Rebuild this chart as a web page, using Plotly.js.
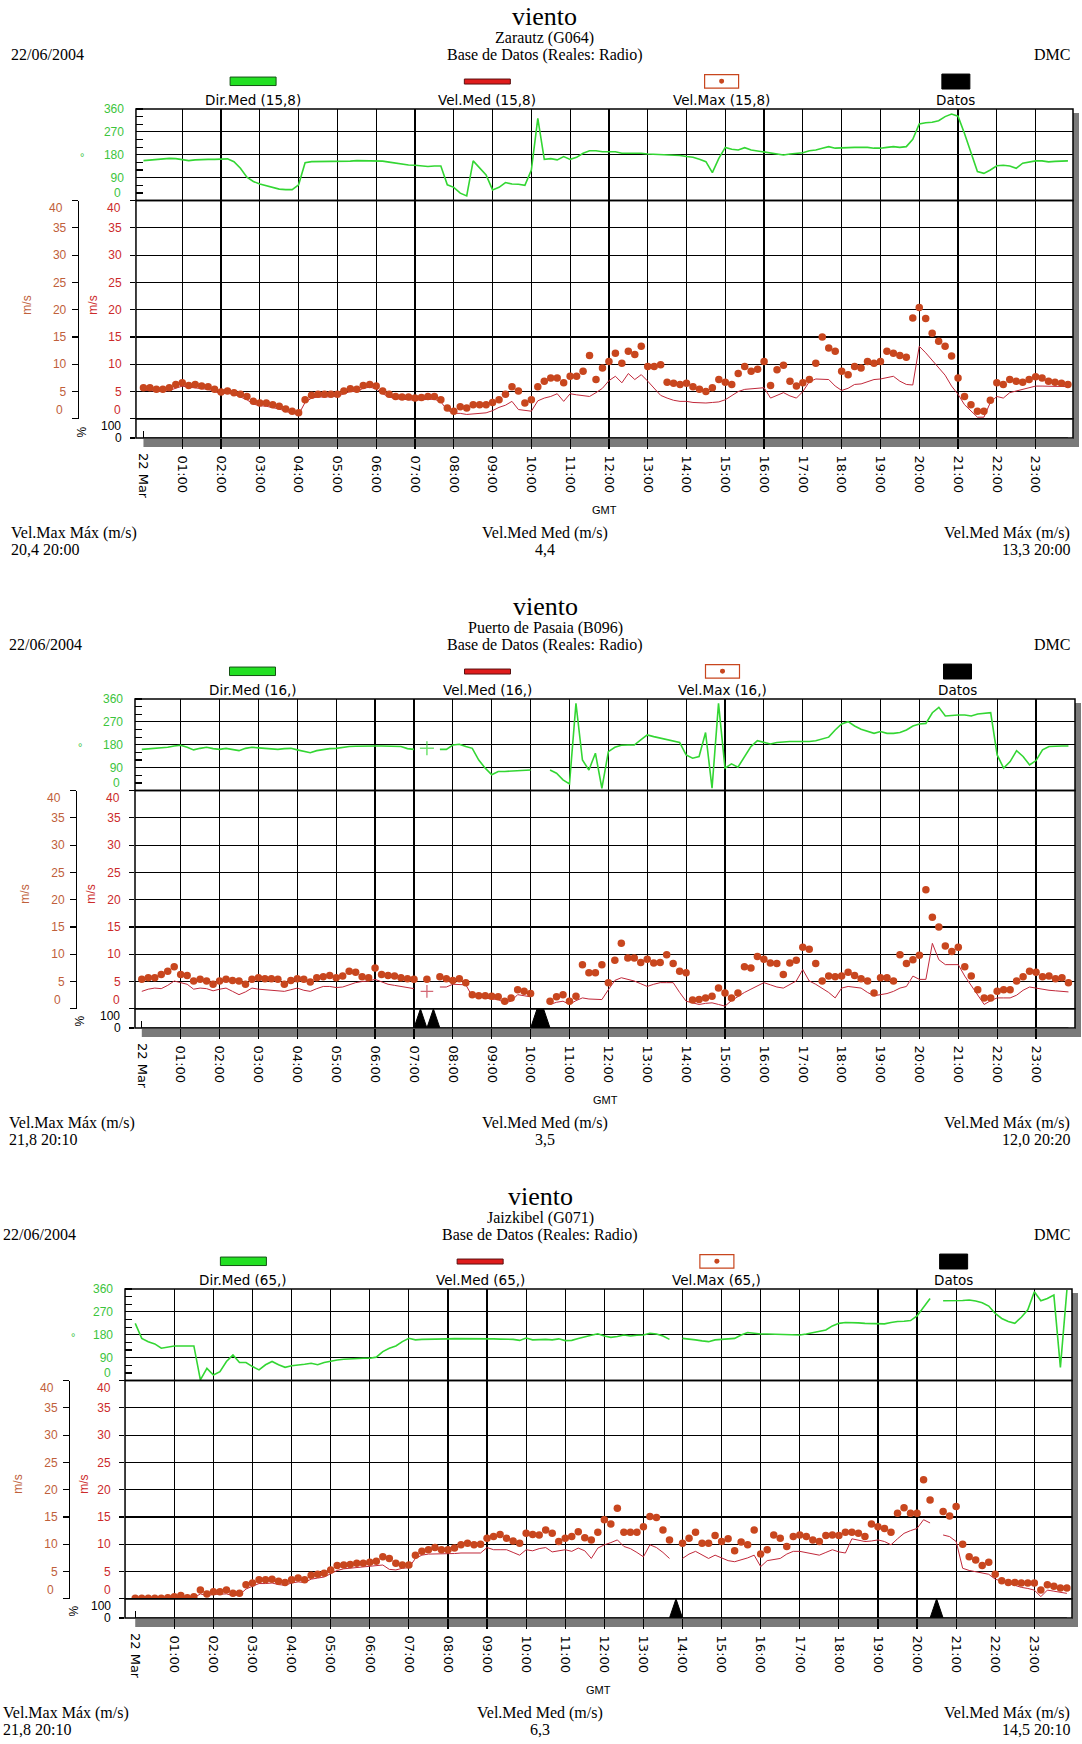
<!DOCTYPE html>
<html>
<head>
<meta charset="utf-8">
<script src="https://cdn.plot.ly/plotly-3.0.1.min.js"></script>
<style>
  html, body { margin: 0; padding: 0; background: #fff; overflow: hidden; width: 1082px; }
  .panel { width: 1082px; height: 590px; }
</style>
</head>
<body>
<div id="p1" class="panel"></div>
<div id="p2" class="panel"></div>
<div id="p3" class="panel"></div>
<script>
// ---------------------------------------------------------------
// Tick labels
// ---------------------------------------------------------------
const dayLabel = '22 Mar';
const hourLabels = ['01:00','02:00','03:00','04:00','05:00','06:00','07:00','08:00','09:00','10:00','11:00','12:00',
                    '13:00','14:00','15:00','16:00','17:00','18:00','19:00','20:00','21:00','22:00','23:00'];

// ---------------------------------------------------------------
// Zarautz (G064) - 10 minute values
// ---------------------------------------------------------------
const dir1 = [157,160,162,165,166,165,160,157,160,162,162,162,164,164,
  153,127,92,75,65,58,50,45,43,43,62,149,153,
  153,153,153,153,154,155,157,157,157,157,155,151,147,143,140,139,136,134,136,136,
  62,52,29,18,156,127,101,42,52,71,65,64,60,120,323,162,165,160,173,162,170,186,196,196,192,
  192,192,186,186,188,186,183,182,179,179,179,177,173,170,162,153,110,166,209,202,199,208,199,195,
  192,186,182,179,183,186,188,196,199,206,212,206,206,208,209,209,209,206,206,209,212,209,212,241,
  301,306,308,314,330,340,332,264,186,114,107,120,137,139,136,127,147,152,156,156,152,154,156,156];
const vmax1 = [5.7,5.7,5.4,5.4,5.7,6.3,6.6,6.1,6.3,6.0,5.9,5.4,4.9,5.1,4.8,4.5,4.1,3.2,2.9,2.9,2.6,2.3,1.8,1.4,1.1,
  3.5,4.3,4.5,4.5,4.5,4.5,5.1,5.5,5.4,6.1,6.3,6.0,5.1,4.5,4.1,4.0,4.0,3.8,3.9,4.1,4.1,3.5,
  2.0,1.4,2.2,2.0,2.6,2.6,2.6,3.0,3.5,4.5,5.9,5.1,2.9,3.5,5.9,6.9,7.5,7.5,6.6,7.8,7.8,8.7,11.6,7.2,9.3,
  10.5,12.0,10.2,12.4,11.8,13.3,9.6,9.6,9.9,6.7,6.5,6.3,6.5,5.9,5.4,5.0,5.7,7.2,6.7,6.3,8.3,9.6,8.7,9.1,
  10.5,6.1,9.0,9.8,6.9,6.0,6.6,7.2,10.2,15.0,13.0,12.4,8.7,8.1,9.6,9.3,10.5,10.2,10.5,12.4,12.0,11.6,11.3,18.5,
  20.4,18.4,15.7,14.2,13.3,11.5,7.5,4.1,2.6,1.4,1.4,3.4,6.6,6.3,7.2,6.9,6.7,7.2,7.7,7.5,6.9,6.7,6.5,6.3];
const vmed1 = [5.2,5.2,5.0,5.0,5.2,5.6,6.0,5.8,5.7,5.6,5.4,5.0,4.6,4.7,
  4.5,4.0,3.5,2.7,2.4,2.3,2.1,1.8,1.4,1.0,0.8,
  3.0,3.8,4.0,4.0,4.1,4.1,4.6,5.0,5.0,5.6,5.8,5.5,4.6,4.0,3.7,3.6,3.5,3.4,3.5,3.6,3.6,3.1,
  1.6,1.0,1.0,0.8,0.9,1.0,1.1,1.5,2.1,2.5,3.2,1.7,1.6,1.4,3.3,3.8,4.1,4.6,3.2,4.6,4.4,4.2,4.1,4.8,5.6,
  7.0,7.8,6.6,8.3,7.2,8.1,6.9,5.5,4.3,3.8,3.4,3.2,3.2,3.0,2.9,2.9,3.0,3.1,3.5,4.2,5.0,5.4,5.5,5.6,
  5.7,3.8,4.3,4.8,4.2,3.8,5.0,6.8,7.3,7.3,7.2,6.0,5.2,5.6,6.3,6.4,6.8,7.2,7.3,7.6,7.8,6.9,6.3,6.2,
  13.3,12.1,10.8,9.5,8.0,6.0,4.5,2.6,1.5,0.3,0.3,3.0,4.1,3.8,4.8,5.1,5.4,5.8,6.0,6.0,6.0,6.0,6.0,5.9];
const datosTimes1 = [];
const datosPct1 = [];

// ---------------------------------------------------------------
// Puerto de Pasaia (B096) - 10 minute values
// ---------------------------------------------------------------
const dir2 = [162,164,165,166,170,175,178,170,160,166,170,165,162,166,162,157,166,170,168,166,164,162,165,166,
  160,154,149,157,162,165,166,170,173,174,175,175,175,175,175,175,173,165,162,
  null,166,null,
  162,162,179,182,173,166,120,88,62,75,75,77,79,80,81,
  null,null,
  81,68,42,26,343,120,81,147,9,
  153,170,178,179,179,199,219,212,206,199,195,189,140,127,134,228,9,343,88,105,92,134,173,196,
  189,183,189,192,193,193,193,193,196,202,210,238,262,271,254,241,232,225,232,225,225,228,238,254,
  262,264,306,327,293,296,297,297,293,301,304,306,140,88,114,157,134,101,118,160,173,175,175,175];
const vmax2 = [5.4,5.7,5.7,6.3,6.9,7.7,6.3,6.1,5.1,5.4,5.1,4.5,5.1,5.4,5.2,5.1,4.5,5.4,5.7,5.5,5.5,5.4,4.5,5.2,
  5.5,5.4,4.9,5.7,5.9,6.1,5.7,6.0,6.9,6.7,5.9,5.7,7.5,6.3,6.1,6.0,5.7,5.5,5.4,
  null,5.4,null,
  5.9,5.5,5.2,5.5,4.8,2.6,2.4,2.4,2.3,2.2,1.4,2.0,3.5,3.2,2.8,
  null,null,
  1.4,2.2,2.6,1.4,2.3,8.1,6.6,6.6,8.1,
  4.8,8.9,12.0,9.3,9.3,8.5,9.1,8.4,8.5,9.9,8.3,6.9,6.6,1.6,1.7,2.0,2.3,3.8,2.9,2.0,2.9,7.7,7.5,9.6,
  9.1,8.4,8.3,6.3,8.4,8.9,11.3,10.9,8.3,5.1,6.0,5.9,6.0,6.7,6.1,5.5,5.1,2.9,5.7,5.7,5.1,9.9,8.3,9.0,
  9.8,21.8,16.8,15.0,11.5,10.5,11.3,7.7,6.0,3.5,2.0,2.0,3.2,3.5,3.5,5.1,5.9,6.9,6.7,5.9,6.0,5.5,5.7,4.8];
const vmed2 = [3.2,3.6,3.8,3.7,4.3,5.1,4.8,4.5,3.6,3.8,3.7,3.3,3.6,3.8,3.2,2.6,3.1,3.8,3.6,3.5,3.5,3.4,3.2,3.5,
  3.8,3.4,3.2,3.7,4.1,4.1,3.9,4.0,4.4,4.8,5.0,5.1,5.4,4.9,4.5,4.3,4.1,3.9,3.7,
  null,3.2,null,
  4.0,4.0,4.5,4.5,4.4,2.3,2.1,2.0,1.8,1.7,1.1,1.4,2.6,2.4,2.2,
  null,null,
  0.8,1.2,1.4,0.8,1.5,2.0,1.8,1.7,1.7,
  3.5,5.2,5.7,5.4,5.1,4.6,4.1,4.5,4.8,4.8,4.8,3.0,1.4,1.1,0.8,1.0,1.1,0.8,0.5,1.5,2.3,3.0,3.6,4.2,
  4.8,4.4,4.0,3.8,4.5,5.1,7.2,5.1,4.5,3.8,3.0,2.0,3.8,4.1,4.0,3.8,3.0,2.4,2.6,2.8,3.2,3.8,4.1,6.0,
  5.4,5.4,12.0,9.0,8.1,8.1,8.1,6.0,4.2,2.6,0.8,1.5,2.0,2.0,2.0,2.5,3.4,4.0,3.8,3.5,3.4,3.3,3.2,3.1];
const datosTimes2 = ['07:10','07:30','10:10','10:20'];
const datosPct2 = [100,100,100,100];

// ---------------------------------------------------------------
// Jaizkibel (G071) - 10 minute values
// ---------------------------------------------------------------
const dir3 = [225,166,153,144,127,131,136,136,136,136,
  3,48,22,35,75,101,71,71,55,42,62,75,62,52,58,60,64,68,62,71,77,81,84,86,88,88,88,92,114,127,136,153,166,160,162,162,
  162,163,164,165,165,165,166,165,165,164,163,163,162,158,167,160,161,162,160,164,157,158,165,170,178,184,
  175,170,173,179,175,178,179,186,183,175,162,null,166,164,160,156,153,160,162,165,166,179,189,186,
  183,183,182,181,179,179,179,183,188,195,199,215,225,228,228,227,225,225,224,223,228,232,233,236,
  254,290,323,null,314,314,314,315,317,313,306,293,264,244,232,225,249,278,349,314,323,336,52,356];
const vmax3 = [0.1,0.1,0.1,0.1,0.1,0.2,0.4,0.6,0.2,0.4,
  1.6,0.9,1.3,1.3,1.6,1.0,1.0,2.6,2.9,3.5,
  3.5,3.6,3.2,3.0,3.5,3.8,3.5,4.3,4.5,4.7,
  5.3,6.1,6.2,6.3,6.5,6.5,6.7,6.9,7.7,7.4,
  6.5,6.2,6.2,8.0,8.7,9.0,9.4,9.0,9.0,9.3,
  9.9,10.2,9.9,10.0,11.1,11.4,11.8,11.1,10.6,10.2,
  12.0,11.8,11.7,12.6,12.0,10.5,11.1,11.4,12.3,11.2,
  10.8,12.2,
  14.5,13.7,16.6,12.2,12.2,12.2,13.2,15.1,14.9,12.6,
  10.8,null,10.2,11.1,12.2,10.2,10.2,11.6,10.5,11.0,
  8.8,10.4,9.9,12.6,8.2,9.0,11.7,11.1,9.6,11.4,
  11.7,11.4,10.8,10.5,11.6,11.7,11.6,12.2,12.2,12.0,
  11.4,13.7,13.2,12.9,12.2,15.7,16.7,15.7,15.7,21.8,
  18.1,null,16.0,15.2,16.9,10.0,7.7,7.1,6.1,6.7,
  4.5,3.3,3.0,3.0,2.9,2.9,2.9,1.6,2.6,2.3,
  2.0,2.0];
const vmed3 = [0.0,0.0,0.0,0.0,0.0,0.1,0.2,0.3,0.1,0.2,
  0.9,0.6,0.8,0.8,0.9,0.6,0.7,1.8,2.3,2.8,
  2.8,2.9,2.6,2.5,2.9,3.1,3.0,3.6,3.8,4.0,
  4.6,5.2,5.5,5.6,5.8,5.8,5.9,6.0,6.2,5.4,
  5.3,5.6,5.7,7.4,8.0,8.2,8.2,8.2,8.3,8.3,
  8.4,8.4,8.4,8.4,9.4,9.0,9.0,9.0,8.5,8.0,
  9.0,8.8,9.2,9.4,8.6,8.8,9.0,8.7,9.3,8.8,
  7.4,9.3,
  9.9,10.3,10.8,9.6,9.2,8.5,7.7,9.9,9.4,8.5,
  7.4,null,7.4,8.2,8.7,8.0,7.4,8.0,7.5,7.0,
  6.8,7.1,7.5,8.0,5.9,7.0,7.2,7.4,8.2,8.7,
  8.7,8.5,8.2,8.0,8.5,9.0,8.6,8.4,11.0,10.8,
  10.5,10.6,10.8,10.5,9.9,11.0,12.0,12.5,12.9,14.5,
  13.9,null,11.7,11.4,10.5,5.6,5.2,5.0,4.8,4.5,
  3.6,3.2,2.9,2.5,2.1,1.9,1.6,0.4,1.6,1.4,
  1.2,1.0];
const datosTimes3 = ['13:50','20:30'];
const datosPct3 = [100,100];

// ---------------------------------------------------------------
// Header and summary texts
// ---------------------------------------------------------------
const chartTitle = 'viento';
const dateText = '22/06/2004';
const sourceText = 'Base de Datos (Reales: Radio)';
const orgText = 'DMC';
const stations = ['Zarautz (G064)', 'Puerto de Pasaia (B096)', 'Jaizkibel (G071)'];
const sensorCodes = ['15,8', '16,', '65,'];
const velMaxMax = ['20,4 20:00', '21,8 20:10', '21,8 20:10'];
const velMedMed = ['4,4', '3,5', '6,3'];
const velMedMax = ['13,3 20:00', '12,0 20:20', '14,5 20:10'];

// ---------------------------------------------------------------
// Drawing
// ---------------------------------------------------------------
const W = 1082, H = 590;
const PLOT_TOP = 109, DIR_BOTTOM = 200.7, SPD_BOTTOM = 419.3, PLOT_BOTTOM = 438.5;
const SERIF = 'Liberation Serif, Times New Roman, serif';
const SANS = 'Liberation Sans, Arial, sans-serif';
const WIDE_SANS = 'DejaVu Sans, sans-serif';
const GREEN = '#33d633', GREEN_TXT = '#3cc43c';
const RED = '#c0283a', RED_TXT = '#cc2a2a';
const RUST = '#c8461e', RUST_TXT = '#c0603a';

// 10-minute slots of the day, in hours
const slots = Array.from({length: 144}, (_, i) => i / 6);

function slotIndex(t) {
  const [h, m] = t.split(':').map(Number);
  return h * 6 + Math.round(m / 10);
}

function datosSeries(times, pct) {
  const s = slots.map(() => 0);
  times.forEach((t, k) => { s[slotIndex(t)] = pct[k]; });
  return s;
}

// single values between gaps get a cross marker, as the line cannot show them
function isolatedSizes(arr, size) {
  return arr.map((v, i) => {
    if (v === null) return 0;
    const prev = i > 0 ? arr[i - 1] : null;
    const next = i < arr.length - 1 ? arr[i + 1] : null;
    return (prev === null && next === null) ? size : 0;
  });
}

function drawPanel(k, d, g) {
  const ml = 10, mr = W - g.frameRight, mt = PLOT_TOP, mb = H - PLOT_BOTTOM;
  const pw = g.frameRight - ml, ph = PLOT_BOTTOM - PLOT_TOP;
  const px = x => (x - ml) / pw;
  const py = y => (PLOT_BOTTOM - y) / ph;
  const dPct = (PLOT_BOTTOM - SPD_BOTTOM) / ph;
  const dDir = (PLOT_BOTTOM - DIR_BOTTOM) / ph;
  const xr = [(g.frameLeft - g.hour0) / g.pxh, (g.frameRight - g.hour0) / g.pxh];
  const xDomain = [px(g.frameLeft), 1];
  const code = sensorCodes[k];

  const traces = [
    { x: slots, y: d.dir, xaxis: 'x', yaxis: 'y', type: 'scatter', mode: 'lines+markers',
      line: { color: GREEN, width: 1.6 },
      marker: { size: isolatedSizes(d.dir, 10), symbol: 'cross-thin-open', color: GREEN, line: { color: GREEN, width: 1.5 } } },
    { x: slots, y: d.vmed, xaxis: 'x', yaxis: 'y2', type: 'scatter', mode: 'lines+markers',
      line: { color: RED, width: 1 },
      marker: { size: isolatedSizes(d.vmed, 9), symbol: 'cross-thin-open', color: RED, line: { color: RED, width: 1.3 } } },
    { x: slots, y: d.vmax, xaxis: 'x', yaxis: 'y2', type: 'scatter', mode: 'markers',
      marker: { size: 7.5, symbol: 'circle', color: RUST } },
    { x: slots, y: datosSeries(d.datosT, d.datosP), xaxis: 'x', yaxis: 'y3', type: 'scatter', mode: 'lines',
      fill: 'tozeroy', fillcolor: '#000', line: { color: '#000', width: 1 } },
    { x: [], y: [], xaxis: 'x2', yaxis: 'y3', type: 'scatter', mode: 'lines' },
    { x: [], y: [], xaxis: 'x', yaxis: 'y4', type: 'scatter', mode: 'lines' }
  ];

  const spdVals = [0, 5, 10, 15, 20, 25, 30, 35, 40];
  const spdText = ['', '5', '10', '15', '20', '25', '30', '35', ''];
  const tickFont = c => ({ family: SANS, size: 12, color: c });

  const layout = {
    width: W, height: H,
    margin: { l: ml, r: mr, t: mt, b: mb, pad: 0 },
    paper_bgcolor: '#fff', plot_bgcolor: '#fff',
    showlegend: false,
    xaxis: {
      domain: xDomain, range: xr, anchor: 'y3',
      tickmode: 'array', tickvals: hourLabels.map((_, i) => i + 1), ticktext: hourLabels,
      tickangle: 90, ticks: 'outside', ticklen: 10, tickwidth: 1.2, tickcolor: '#000',
      ticklabelstandoff: 4,
      tickfont: { family: WIDE_SANS, size: 13, color: '#000' },
      showgrid: true, gridcolor: '#000', gridwidth: 1.2, zeroline: false, showline: false, fixedrange: true
    },
    xaxis2: {
      overlaying: 'x', anchor: 'y3', range: xr,
      tickmode: 'array', tickvals: [0], ticktext: [dayLabel],
      tickangle: 90, ticks: 'inside', ticklen: 7, tickwidth: 1.2, tickcolor: '#000',
      ticklabelstandoff: 14,
      tickfont: { family: WIDE_SANS, size: 13, color: '#000' },
      showgrid: false, zeroline: false, showline: false, fixedrange: true
    },
    yaxis: {
      domain: [dDir, 1], range: [0, 360], anchor: 'x',
      tickmode: 'array', tickvals: [0, 90, 180, 270, 360], ticktext: ['', '90', '180', '270', '360'],
      ticks: '', ticklabelstandoff: 11, tickfont: tickFont(GREEN_TXT),
      minor: { tickmode: 'linear', tick0: 0, dtick: 30, ticks: 'inside', ticklen: 7, tickwidth: 1.2, tickcolor: '#000', showgrid: false },
      showgrid: true, gridcolor: '#000', gridwidth: 1.2, zeroline: false, showline: false, fixedrange: true
    },
    yaxis2: {
      domain: [dPct, dDir], range: [0, 40], anchor: 'x',
      tickmode: 'array', tickvals: spdVals, ticktext: spdText,
      ticks: 'outside', ticklen: 5, tickwidth: 1.2, tickcolor: '#000', ticklabelstandoff: 6,
      tickfont: tickFont(RED_TXT),
      showgrid: true, gridcolor: '#000', gridwidth: 1.2, zeroline: false, showline: false, fixedrange: true
    },
    yaxis3: {
      domain: [0, dPct], range: [0, 100], anchor: 'x',
      tickmode: 'array', tickvals: [0, 100], ticktext: ['0', ''],
      ticks: 'outside', ticklen: 5, tickwidth: 1.2, tickcolor: '#000', ticklabelstandoff: 6,
      tickfont: tickFont('#000'),
      showgrid: false, zeroline: false, showline: false, fixedrange: true
    },
    yaxis4: {
      overlaying: 'y2', anchor: 'free', position: px(g.outerX), side: 'left', range: [0, 40],
      tickmode: 'array', tickvals: spdVals, ticktext: spdText,
      ticks: 'outside', ticklen: 6, tickwidth: 1.2, tickcolor: '#000', ticklabelstandoff: 3,
      tickfont: tickFont(RUST_TXT),
      showline: true, linecolor: '#000', linewidth: 1.2,
      showgrid: false, zeroline: false, fixedrange: true
    },
    shapes: [],
    annotations: []
  };

  const S = layout.shapes, A = layout.annotations;

  // drop shadow of the plot frame
  S.push({ type: 'rect', xref: 'paper', yref: 'paper', layer: 'below',
    x0: px(g.frameRight), x1: px(g.frameRight + 6), y0: py(PLOT_TOP + 4), y1: py(PLOT_BOTTOM + 9),
    fillcolor: '#7a7a7a', line: { width: 0 } });
  S.push({ type: 'rect', xref: 'paper', yref: 'paper', layer: 'below',
    x0: px(g.hour0), x1: px(g.frameRight + 6), y0: py(PLOT_BOTTOM + 1), y1: py(PLOT_BOTTOM + 9),
    fillcolor: '#7a7a7a', line: { width: 0 } });

  // frames of the three stacked sub-plots
  ['y', 'y2', 'y3'].forEach(ya => S.push({ type: 'rect', xref: 'x domain', yref: ya + ' domain',
    x0: 0, x1: 1, y0: 0, y1: 1, line: { color: '#000', width: 1.5 } }));

  // boundary tick labels, nudged inside their own band
  const gap = g.labelGap;
  const boundLabel = (text, yref, yv, shift, xs, color) => A.push({
    xref: 'x domain', yref: yref, x: 0, y: yv, xshift: xs, yshift: shift, xanchor: 'right', yanchor: 'middle',
    text: text, showarrow: false, font: { family: SANS, size: 12, color: color } });
  boundLabel('0', 'y', 0, 7.4, -gap, GREEN_TXT);
  boundLabel('40', 'y2', 40, -7.6, -gap, RED_TXT);
  boundLabel('0', 'y2', 0, 8.6, -gap, RED_TXT);
  boundLabel('100', 'y3', 100, -7.4, -gap, '#000');
  const outerShift = g.outerLabelRight - g.frameLeft;
  boundLabel('40', 'y2', 40, -7.6, outerShift, RUST_TXT);
  boundLabel('0', 'y2', 0, 8.6, outerShift, RUST_TXT);

  // axis titles
  const txt = (text, x, y, size, family, color, anchor, angle) => A.push({
    xref: 'paper', yref: 'paper', x: px(x), y: py(y), text: text, showarrow: false,
    xanchor: anchor || 'center', yanchor: 'middle', textangle: angle || 0,
    font: { family: family, size: size, color: color } });
  txt('m/s', g.outerTitleX, 305, 12, SANS, RUST_TXT, 'center', -90);
  txt('m/s', g.innerTitleX, 305, 12, SANS, RED_TXT, 'center', -90);
  txt('%', g.innerTitleX - 11, 432, 12, SANS, '#000', 'center', -90);
  txt('°', g.innerTitleX - 11, 157, 11, SANS, GREEN_TXT, 'center', 0);

  // header
  txt(chartTitle, g.titleX, 16, 26, SERIF, '#000');
  txt(stations[k], g.titleX, 38, 16, SERIF, '#000');
  txt(sourceText, g.titleX, 54.5, 16, SERIF, '#000');
  txt(dateText, g.textLeft, 54.5, 16, SERIF, '#000', 'left');
  txt(orgText, 1072, 54.5, 16, SERIF, '#000', 'right');

  // legend: one quarter of the plot width per series
  const q = (g.frameRight - g.frameLeft) / 4;
  const cx = i => g.frameLeft + q * (i + 0.5);
  const box = (x0, x1, y0, y1, fill, line, lw) => S.push({ type: 'rect', xref: 'paper', yref: 'paper',
    x0: px(x0), x1: px(x1), y0: py(y1), y1: py(y0), fillcolor: fill, line: { color: line, width: lw } });
  box(cx(0) - 23, cx(0) + 23, 77, 85.5, '#22e022', '#145214', 1);
  box(cx(1) - 23, cx(1) + 23, 79, 84, '#e01c1c', '#5a1010', 1);
  box(cx(2) - 17, cx(2) + 17, 74.5, 88, '#fff', RUST, 1.2);
  S.push({ type: 'circle', xref: 'paper', yref: 'paper', x0: px(cx(2) - 2.5), x1: px(cx(2) + 2.5),
    y0: py(83.8), y1: py(78.8), fillcolor: RUST, line: { width: 0 } });
  box(cx(3) - 14, cx(3) + 14, 74, 89, '#000', '#000', 1);
  txt('Dir.Med (' + code + ')', cx(0), 99.5, 13.5, WIDE_SANS, '#000');
  txt('Vel.Med (' + code + ')', cx(1), 99.5, 13.5, WIDE_SANS, '#000');
  txt('Vel.Max (' + code + ')', cx(2), 99.5, 13.5, WIDE_SANS, '#000');
  txt('Datos', cx(3), 99.5, 13.5, WIDE_SANS, '#000');

  // time axis title and summary line
  txt('GMT', (g.frameLeft + g.frameRight) / 2, 511, 11, SANS, '#000');
  txt('Vel.Max Máx (m/s)', g.textLeft, 534, 16, SERIF, '#000', 'left');
  txt(velMaxMax[k], g.textLeft, 550.5, 16, SERIF, '#000', 'left');
  txt('Vel.Med Med (m/s)', g.titleX, 534, 16, SERIF, '#000');
  txt(velMedMed[k], g.titleX, 550.5, 16, SERIF, '#000');
  txt('Vel.Med Máx (m/s)', 1072, 534, 16, SERIF, '#000', 'right');
  txt(velMedMax[k], 1072, 550.5, 16, SERIF, '#000', 'right');

  Plotly.newPlot(g.id, traces, layout, { staticPlot: true, displayModeBar: false });
}

const panelData = [
  { dir: dir1, vmed: vmed1, vmax: vmax1, datosT: datosTimes1, datosP: datosPct1 },
  { dir: dir2, vmed: vmed2, vmax: vmax2, datosT: datosTimes2, datosP: datosPct2 },
  { dir: dir3, vmed: vmed3, vmax: vmax3, datosT: datosTimes3, datosP: datosPct3 }
];
const panelGeom = [
  { id: 'p1', frameLeft: 136, frameRight: 1073.3, hour0: 143.5, pxh: 38.8, outerX: 77.7, outerLabelRight: 65,
    labelGap: 13, outerTitleX: 27, innerTitleX: 93, textLeft: 9, titleX: 545 },
  { id: 'p2', frameLeft: 135, frameRight: 1075, hour0: 141.8, pxh: 38.88, outerX: 76, outerLabelRight: 63,
    labelGap: 13, outerTitleX: 25, innerTitleX: 91, textLeft: 7, titleX: 545 },
  { id: 'p3', frameLeft: 125, frameRight: 1071.7, hour0: 135.2, pxh: 39.08, outerX: 69, outerLabelRight: 56,
    labelGap: 12, outerTitleX: 18, innerTitleX: 84, textLeft: 1, titleX: 540 }
];
panelGeom.forEach((g, k) => drawPanel(k, panelData[k], g));
</script>
</body>
</html>
